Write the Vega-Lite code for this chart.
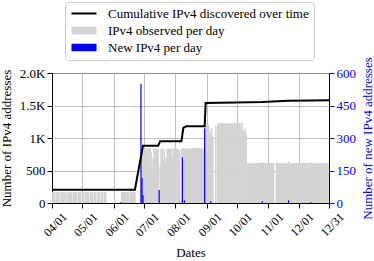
{
  "$schema": "https://vega.github.io/schema/vega-lite/v6.json",
  "autosize": {"type": "none"},
  "padding": {"left": 52, "top": 73, "right": 45, "bottom": 58},
  "width": 277,
  "height": 130,
  "config": {
    "font": "Liberation Serif",
    "view": {"stroke": "black", "strokeWidth": 1},
    "axis": {
      "labelFont": "Liberation Serif", "titleFont": "Liberation Serif",
      "labelFontSize": 13, "titleFontSize": 13, "titleFontWeight": "normal",
      "labelColor": "black", "titleColor": "black",
      "domainColor": "black", "tickColor": "black", "tickSize": 5,
      "gridColor": "#b0b0b0", "gridWidth": 0.8, "labelPadding": 2, "labelOverlap": false
    },
    "legend": {"labelFont": "Liberation Serif"}
  },
  "datasets": {
    "gray": [
      {"d":"2021-04-01","v":166},{"d":"2021-04-02","v":168},{"d":"2021-04-03","v":164},{"d":"2021-04-05","v":166},{"d":"2021-04-06","v":170},{"d":"2021-04-07","v":165},{"d":"2021-04-08","v":166},{"d":"2021-04-10","v":167},{"d":"2021-04-11","v":166},{"d":"2021-04-12","v":168},{"d":"2021-04-13","v":165},{"d":"2021-04-15","v":166},{"d":"2021-04-17","v":167},{"d":"2021-04-18","v":166},{"d":"2021-04-19","v":165},{"d":"2021-04-20","v":168},{"d":"2021-04-22","v":166},{"d":"2021-04-23","v":167},{"d":"2021-04-24","v":166},{"d":"2021-04-25","v":165},{"d":"2021-04-27","v":166},{"d":"2021-04-28","v":168},{"d":"2021-04-29","v":166},
      {"d":"2021-05-01","v":166},{"d":"2021-05-02","v":167},{"d":"2021-05-04","v":165},{"d":"2021-05-05","v":166},{"d":"2021-05-06","v":168},{"d":"2021-05-07","v":166},{"d":"2021-05-09","v":165},{"d":"2021-05-10","v":167},{"d":"2021-05-11","v":166},{"d":"2021-05-13","v":168},{"d":"2021-05-14","v":166},{"d":"2021-05-16","v":165},{"d":"2021-05-17","v":167},{"d":"2021-05-18","v":166},{"d":"2021-05-20","v":166},{"d":"2021-05-21","v":168},{"d":"2021-05-23","v":166},{"d":"2021-05-24","v":165},
      {"d":"2021-06-09","v":166},{"d":"2021-06-10","v":167},{"d":"2021-06-11","v":166},{"d":"2021-06-12","v":168},{"d":"2021-06-13","v":165},{"d":"2021-06-14","v":166},{"d":"2021-06-15","v":167},{"d":"2021-06-16","v":166},{"d":"2021-06-18","v":165},{"d":"2021-06-19","v":166},{"d":"2021-06-20","v":168},{"d":"2021-06-21","v":166},{"d":"2021-06-22","v":165},
      {"d":"2021-06-29","v":820},{"d":"2021-06-30","v":840},
      {"d":"2021-07-01","v":830},{"d":"2021-07-02","v":845},{"d":"2021-07-03","v":835},{"d":"2021-07-04","v":820},{"d":"2021-07-05","v":840},{"d":"2021-07-06","v":830},{"d":"2021-07-07","v":845},{"d":"2021-07-08","v":780},{"d":"2021-07-09","v":510},{"d":"2021-07-10","v":700},{"d":"2021-07-11","v":835},{"d":"2021-07-12","v":840},{"d":"2021-07-13","v":825},{"d":"2021-07-14","v":830},{"d":"2021-07-15","v":820},{"d":"2021-07-16","v":200},{"d":"2021-07-17","v":560},{"d":"2021-07-18","v":830},{"d":"2021-07-19","v":845},{"d":"2021-07-20","v":650},{"d":"2021-07-21","v":820},{"d":"2021-07-22","v":600},{"d":"2021-07-23","v":700},{"d":"2021-07-24","v":830},{"d":"2021-07-25","v":840},{"d":"2021-07-26","v":835},{"d":"2021-07-27","v":825},{"d":"2021-07-28","v":840},{"d":"2021-07-29","v":700},{"d":"2021-07-30","v":830},{"d":"2021-07-31","v":845},
      {"d":"2021-08-01","v":835},{"d":"2021-08-02","v":840},{"d":"2021-08-03","v":825},{"d":"2021-08-04","v":830},{"d":"2021-08-05","v":800},{"d":"2021-08-07","v":820},{"d":"2021-08-08","v":840},{"d":"2021-08-09","v":845},{"d":"2021-08-10","v":830},{"d":"2021-08-11","v":835},{"d":"2021-08-12","v":850},{"d":"2021-08-13","v":840},{"d":"2021-08-14","v":830},{"d":"2021-08-15","v":845},{"d":"2021-08-16","v":835},{"d":"2021-08-17","v":840},{"d":"2021-08-18","v":845},{"d":"2021-08-19","v":850},{"d":"2021-08-20","v":840},{"d":"2021-08-21","v":835},{"d":"2021-08-22","v":845},{"d":"2021-08-23","v":840},{"d":"2021-08-24","v":850},{"d":"2021-08-25","v":845},{"d":"2021-08-26","v":835},{"d":"2021-08-27","v":840},{"d":"2021-08-28","v":825},{"d":"2021-08-29","v":820},{"d":"2021-08-30","v":830},
      {"d":"2021-08-31","v":1200},{"d":"2021-09-01","v":1210},{"d":"2021-09-02","v":1195},{"d":"2021-09-03","v":1205},{"d":"2021-09-04","v":1100},{"d":"2021-09-05","v":1050},{"d":"2021-09-06","v":1150},{"d":"2021-09-07","v":1020},{"d":"2021-09-10","v":1180},
      {"d":"2021-09-12","v":1215},{"d":"2021-09-13","v":1225},{"d":"2021-09-14","v":1230},{"d":"2021-09-15","v":1220},{"d":"2021-09-16","v":1228},{"d":"2021-09-17","v":1232},{"d":"2021-09-18","v":1225},{"d":"2021-09-19","v":1218},{"d":"2021-09-20","v":1226},{"d":"2021-09-21","v":1230},{"d":"2021-09-22","v":1224},{"d":"2021-09-23","v":1220},{"d":"2021-09-24","v":1228},{"d":"2021-09-25","v":1232},{"d":"2021-09-26","v":1226},{"d":"2021-09-27","v":1222},{"d":"2021-09-28","v":1230},{"d":"2021-09-29","v":1235},{"d":"2021-09-30","v":1225},
      {"d":"2021-10-01","v":1228},{"d":"2021-10-02","v":1220},{"d":"2021-10-03","v":1232},{"d":"2021-10-04","v":1226},{"d":"2021-10-05","v":1150},{"d":"2021-10-06","v":1230},{"d":"2021-10-07","v":1120},{"d":"2021-10-08","v":1100},{"d":"2021-10-09","v":1150},{"d":"2021-10-10","v":1080},
      {"d":"2021-10-11","v":615},{"d":"2021-10-12","v":612},{"d":"2021-10-13","v":618},{"d":"2021-10-14","v":615},{"d":"2021-10-15","v":610},{"d":"2021-10-16","v":616},{"d":"2021-10-17","v":614},{"d":"2021-10-18","v":618},{"d":"2021-10-19","v":615},{"d":"2021-10-20","v":612},{"d":"2021-10-21","v":616},{"d":"2021-10-22","v":614},{"d":"2021-10-23","v":617},{"d":"2021-10-24","v":615},{"d":"2021-10-25","v":613},{"d":"2021-10-26","v":630},{"d":"2021-10-27","v":615},{"d":"2021-10-28","v":612},{"d":"2021-10-29","v":616},{"d":"2021-10-30","v":614},{"d":"2021-10-31","v":615},
      {"d":"2021-11-01","v":616},{"d":"2021-11-02","v":614},{"d":"2021-11-03","v":612},{"d":"2021-11-04","v":615},{"d":"2021-11-05","v":618},{"d":"2021-11-06","v":614},{"d":"2021-11-09","v":615},{"d":"2021-11-10","v":617},{"d":"2021-11-11","v":614},{"d":"2021-11-12","v":616},{"d":"2021-11-13","v":613},{"d":"2021-11-14","v":615},{"d":"2021-11-15","v":617},{"d":"2021-11-16","v":614},{"d":"2021-11-17","v":616},{"d":"2021-11-18","v":615},{"d":"2021-11-19","v":612},{"d":"2021-11-20","v":616},{"d":"2021-11-21","v":640},{"d":"2021-11-22","v":615},{"d":"2021-11-23","v":614},{"d":"2021-11-24","v":616},{"d":"2021-11-25","v":613},{"d":"2021-11-26","v":615},{"d":"2021-11-27","v":617},{"d":"2021-11-28","v":614},{"d":"2021-11-29","v":616},{"d":"2021-11-30","v":615},
      {"d":"2021-12-01","v":614},{"d":"2021-12-02","v":616},{"d":"2021-12-03","v":615},{"d":"2021-12-04","v":613},{"d":"2021-12-05","v":617},{"d":"2021-12-06","v":614},{"d":"2021-12-07","v":616},{"d":"2021-12-08","v":615},{"d":"2021-12-09","v":612},{"d":"2021-12-10","v":616},{"d":"2021-12-11","v":614},{"d":"2021-12-12","v":615},{"d":"2021-12-13","v":630},{"d":"2021-12-14","v":615},{"d":"2021-12-15","v":613},{"d":"2021-12-16","v":616},{"d":"2021-12-17","v":614},{"d":"2021-12-18","v":615},{"d":"2021-12-19","v":617},{"d":"2021-12-20","v":614},{"d":"2021-12-21","v":616},{"d":"2021-12-22","v":615},{"d":"2021-12-23","v":613},{"d":"2021-12-24","v":616},{"d":"2021-12-25","v":614},{"d":"2021-12-26","v":615},{"d":"2021-12-27","v":617},{"d":"2021-12-28","v":614},{"d":"2021-12-29","v":616},{"d":"2021-12-30","v":615}
    ],
    "blue": [
      {"d":"2021-06-08","v":3},{"d":"2021-06-28","v":550},{"d":"2021-06-29","v":115},{"d":"2021-06-30","v":36},{"d":"2021-07-16","v":60},{"d":"2021-08-08","v":210},{"d":"2021-08-10","v":12},{"d":"2021-08-30","v":345},{"d":"2021-09-05","v":8},{"d":"2021-10-26","v":8},{"d":"2021-11-21","v":12},{"d":"2021-12-13","v":4}
    ],
    "cum": [
      {"d":"2021-04-01","v":205},{"d":"2021-06-22","v":205},{"d":"2021-06-30","v":880},{"d":"2021-07-15","v":880},{"d":"2021-07-17","v":950},{"d":"2021-08-07","v":950},{"d":"2021-08-09","v":1160},{"d":"2021-08-12","v":1180},{"d":"2021-08-30","v":1180},{"d":"2021-08-31","v":1540},{"d":"2021-09-30","v":1548},{"d":"2021-10-26","v":1555},{"d":"2021-11-21","v":1572},{"d":"2021-12-13","v":1578},{"d":"2021-12-31","v":1580}
    ]
  },
  "encoding": {
    "x": {
      "field": "d", "type": "temporal", "title": "Dates",
      "scale": {"type": "utc", "padding": 0, "domain": [1617235200000, 1640908800000]},
      "axis": {
        "values": [1617235200000, 1619827200000, 1622505600000, 1625097600000, 1627776000000, 1630454400000, 1633046400000, 1635724800000, 1638316800000, 1640908800000],
        "tickCount": 10,
        "labelExpr": "utcFormat(datum.value, '%m/%d')",
        "labelAngle": -45, "labelAlign": "right", "labelBaseline": "top",
        "labelOverlap": false, "labelBound": false,
        "labelFontSize": 12, "labelOffset": 9, "labelPadding": 3,
        "grid": true, "titlePadding": 8
      }
    }
  },
  "layer": [
    {
      "data": {"name": "gray"},
      "mark": {"type": "bar", "width": 1.6, "clip": true},
      "encoding": {
        "y": {
          "field": "v", "type": "quantitative",
          "scale": {"domain": [0, 2000]},
          "axis": {
            "orient": "left", "title": "Number of IPv4 addresses", "grid": true,
            "values": [0, 500, 1000, 1500, 2000],
            "labelExpr": "datum.value == 0 ? '0' : datum.value == 500 ? '500' : datum.value == 1000 ? '1K' : datum.value == 1500 ? '1.5K' : '2.0K'",
            "titlePadding": 6
          }
        },
        "color": {
          "datum": "IPv4 observed per day",
          "scale": {
            "domain": ["Cumulative IPv4 discovered over time", "IPv4 observed per day", "New IPv4 per day"],
            "range": ["black", "#d3d3d3", "#0000ff"]
          },
          "legend": {
            "title": null, "orient": "none", "legendX": 13, "legendY": -71,
            "direction": "vertical",
            "labelFontSize": 13, "labelLimit": 400, "labelOffset": 25, "labelColor": "black",
            "symbolSize": 100, "rowPadding": 3,
            "strokeColor": "#cccccc", "fillColor": "white", "padding": 5, "cornerRadius": 3,
            "encode": {
              "symbols": {
                "update": {
                  "shape": {"signal": "datum.value === 'Cumulative IPv4 discovered over time' ? 'M-1,-0.2H4V0.2H-1Z' : 'M-1,-0.75H4V0.75H-1Z'"},
                  "fill": {"signal": "scale('color', datum.value)"},
                  "strokeWidth": {"value": 0},
                  "opacity": {"value": 1}
                }
              }
            }
          }
        }
      }
    },
    {
      "data": {"name": "blue"},
      "mark": {"type": "bar", "width": 1.2, "clip": true},
      "encoding": {
        "y": {
          "field": "v", "type": "quantitative",
          "scale": {"domain": [0, 600]},
          "axis": {
            "orient": "right", "title": "Number of new IPv4 addresses", "grid": false,
            "values": [0, 150, 300, 450, 600],
            "labelColor": "#0000ff", "titleColor": "#0000ff", "tickColor": "#0000ff",
            "titleAngle": 270, "titleBaseline": "top", "titlePadding": 6
          }
        },
        "color": {"datum": "New IPv4 per day"}
      }
    },
    {
      "data": {"name": "cum"},
      "mark": {"type": "line", "strokeWidth": 2, "clip": true},
      "encoding": {
        "y": {"field": "v", "type": "quantitative", "scale": {"domain": [0, 2000]}, "axis": null},
        "color": {"datum": "Cumulative IPv4 discovered over time"}
      }
    }
  ],
  "resolve": {"scale": {"y": "independent"}, "axis": {"y": "independent"}}
}
